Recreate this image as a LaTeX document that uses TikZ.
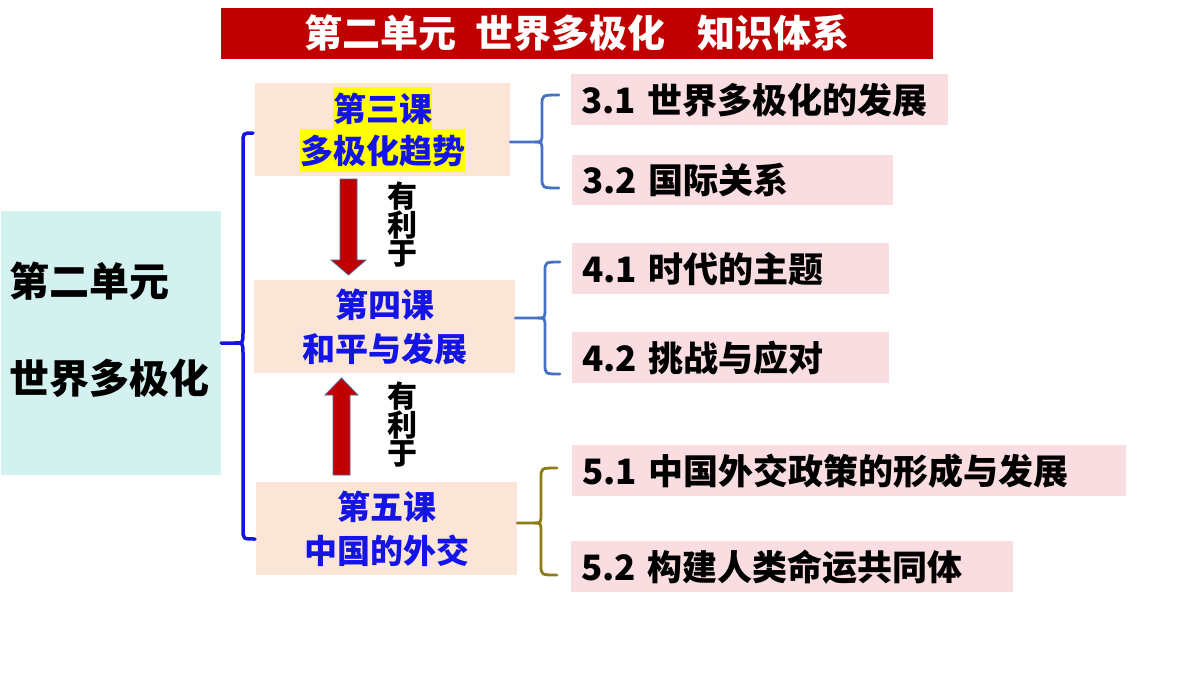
\documentclass[tikz,border=0pt]{standalone}
\usepackage{fontspec}
\newfontfamily\cjk{Noto Sans CJK SC Black}
\usetikzlibrary{calc}
\definecolor{titlered}{HTML}{C00000}
\definecolor{unitbg}{HTML}{D3F1EF}
\definecolor{lessonbg}{HTML}{FBE5D6}
\definecolor{topicbg}{HTML}{F9DDE1}
\definecolor{lessonblue}{HTML}{1414E6}
\definecolor{bigblue}{HTML}{1414E0}
\definecolor{braceblue}{HTML}{4472C4}
\definecolor{braceolive}{HTML}{8B7D14}
\definecolor{arrowred}{HTML}{C00000}
\definecolor{arrowedge}{HTML}{4A6A9A}
\definecolor{hlyellow}{HTML}{FFFF00}
\newcommand{\hlbox}[1]{{\setlength{\fboxsep}{0pt}\colorbox{hlyellow}{\rule[-9pt]{0pt}{43pt}#1}}}
\begin{document}
\begin{tikzpicture}[x=1pt,y=-1pt,
  font=\cjk,
  lessonbox/.style={fill=lessonbg, inner sep=0pt, minimum height=93pt, align=center,
    text=lessonblue, font=\cjk\fontsize{33}{44}\selectfont},
  topicbox/.style={fill=topicbg, anchor=north west, inner xsep=10pt, inner ysep=0pt,
    align=left, font=\cjk\fontsize{35}{40}\selectfont},
  bigbrace/.style={draw=bigblue, line width=3.5pt, line cap=round},
  bluebrace/.style={draw=braceblue, line width=2.8pt, line cap=round},
  olivebrace/.style={draw=braceolive, line width=2.8pt, line cap=round},
  bigarrow/.style={fill=arrowred, draw=arrowedge, line width=0.8pt, line join=miter},
  sidelabel/.style={align=center, inner sep=0pt, font=\cjk\fontsize{30}{28.5}\selectfont}
]
\useasboundingbox (0,0) rectangle (1200,675);
\fill[white] (0,0) rectangle (1200,675);

% title
\node[fill=titlered, minimum width=712pt, minimum height=51pt, inner sep=0pt,
  text=white, font=\cjk\fontsize{38}{40}\selectfont] (title) at (577,33.5)
  {第二单元\hspace{19pt}世界多极化\hspace{33pt}知识体系};

% unit box
\node[fill=unitbg, minimum width=220pt, minimum height=264pt, inner sep=0pt] (unit) at (111,343) {};
\node[anchor=west, align=left, inner sep=0pt, font=\cjk\fontsize{40}{97}\selectfont] (unittext) at (9,330)
  {第二单元\\世界多极化};

% lesson boxes
\node[lessonbox, minimum width=255pt] (L3) at (382.5,129.5)
  {\hlbox{第三课}\\[-2pt]\hlbox{多极化趋势}};
\node[lessonbox, minimum width=261pt] (L4) at (384.5,326.5) {第四课\\和平与发展};
\node[lessonbox, minimum width=261pt] (L5) at (386.5,528.5) {第五课\\中国的外交};

% topic boxes
\node[topicbox, text width=357pt, minimum height=51pt] (t31) at (571,74) {3.1 世界多极化的发展};
\node[topicbox, text width=301pt, minimum height=50pt] (t32) at (572,155) {3.2 国际关系};
\node[topicbox, text width=297pt, minimum height=51pt] (t41) at (572,243) {4.1 时代的主题};
\node[topicbox, text width=297pt, minimum height=51pt] (t42) at (572,332) {4.2 挑战与应对};
\node[topicbox, text width=534pt, minimum height=51pt] (t51) at (572,445) {5.1 中国外交政策的形成与发展};
\node[topicbox, text width=422pt, minimum height=51pt] (t52) at (571,541) {5.2 构建人类命运共同体};

% big brace
\draw[bigbrace] (unit.east) -- (235,343) .. controls (243,343) .. (243,333) -- (243,143)
  .. controls (243,133) .. (253,133);
\draw[bigbrace] (235,343) .. controls (243,343) .. (243,353) -- (243,529)
  .. controls (243,539) .. (255,539);

% right braces
\draw[bluebrace] (L3.east |- 0,142) -- (535,142) .. controls (542,142) .. (542,132) -- (542,105)
  .. controls (542,95) .. (559,95);
\draw[bluebrace] (535,142) .. controls (542,142) .. (542,152) -- (542,178)
  .. controls (542,188) .. (559,188);

\draw[bluebrace] (L4.east |- 0,318) -- (538,318) .. controls (545,318) .. (545,308) -- (545,272)
  .. controls (545,262) .. (560,262);
\draw[bluebrace] (538,318) .. controls (545,318) .. (545,328) -- (545,364)
  .. controls (545,374) .. (560,374);

\draw[olivebrace] (L5.east |- 0,523) -- (534,523) .. controls (541,523) .. (541,513) -- (541,478)
  .. controls (541,468) .. (557,468);
\draw[olivebrace] (534,523) .. controls (541,523) .. (541,533) -- (541,565)
  .. controls (541,575) .. (557,575);

% arrows
\coordinate (a1s) at (348.5,179);
\coordinate (a1e) at (348.5,275);
\draw[bigarrow] ($(a1s)+(-8.5,0)$) -- ($(a1s)+(8.5,0)$) -- ($(a1e)+(8.5,-15)$) -- ($(a1e)+(17.5,-15)$)
  -- (a1e) -- ($(a1e)+(-17.5,-15)$) -- ($(a1e)+(-8.5,-15)$) -- cycle;
\coordinate (a2s) at (341.5,475);
\coordinate (a2e) at (341.5,378);
\draw[bigarrow] ($(a2s)+(-8.5,0)$) -- ($(a2s)+(8.5,0)$) -- ($(a2e)+(8.5,17)$) -- ($(a2e)+(16.5,17)$)
  -- (a2e) -- ($(a2e)+(-16.5,17)$) -- ($(a2e)+(-8.5,17)$) -- cycle;

\node[sidelabel] (lab1) at (402,225) {有\\利\\于};
\node[sidelabel] (lab2) at (402,425) {有\\利\\于};
\end{tikzpicture}
\end{document}
